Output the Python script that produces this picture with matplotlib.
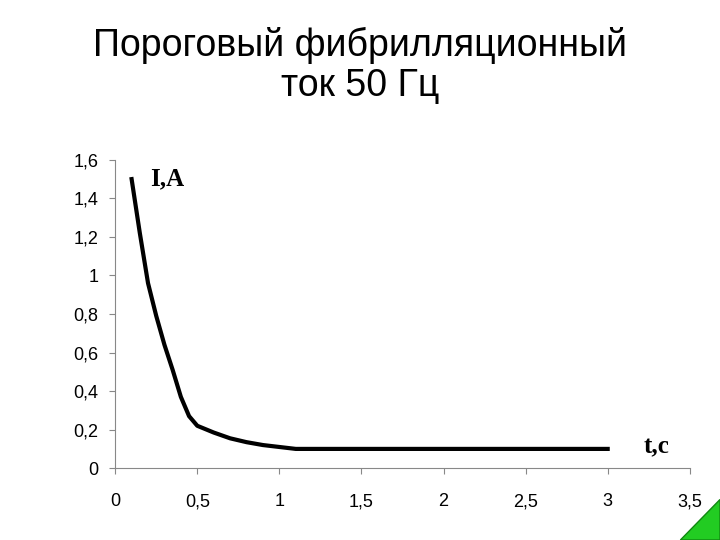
import matplotlib.pyplot as plt

# data
t = [0.1, 0.15, 0.2, 0.25, 0.3, 0.35, 0.4, 0.45, 0.5, 0.6, 0.7, 0.8, 0.9, 1.0, 1.1, 1.5, 2.0, 2.5, 3.0]
i = [1.5, 1.22, 0.96, 0.79, 0.64, 0.51, 0.37, 0.27, 0.22, 0.185, 0.155, 0.135, 0.12, 0.11, 0.1, 0.1, 0.1, 0.1, 0.1]
xticks = [0, 0.5, 1, 1.5, 2, 2.5, 3, 3.5]
yticks = [0, 0.2, 0.4, 0.6, 0.8, 1.0, 1.2, 1.4, 1.6]

def fmt(v):
    s = f"{v:g}"
    return s.replace(".", ",")

fig = plt.figure(figsize=(7.2, 5.4), dpi=100)
fig.text(0.5, 0.95, "Пороговый фибрилляционный\nток 50 Гц", ha="center", va="top",
         fontsize=27, family="Liberation Sans", linespacing=1.15)

ax = fig.add_axes([0.16, 0.133, 0.798, 0.571])
ax.plot(t, i, color="black", linewidth=3, solid_joinstyle="round")
ax.set_xlim(0, 3.5)
ax.set_ylim(0, 1.6)
ax.set_xticks(xticks)
ax.set_xticklabels([fmt(v) for v in xticks])
ax.set_yticks(yticks)
ax.set_yticklabels([fmt(v) for v in yticks])
for lab in ax.get_xticklabels() + ax.get_yticklabels():
    lab.set_family("Liberation Sans")
    lab.set_fontsize(13)
ax.tick_params(axis="x", pad=14, length=4, color="#888888")
ax.tick_params(axis="y", pad=8, length=4, color="#888888")
for s in ["top", "right"]:
    ax.spines[s].set_visible(False)
for s in ["left", "bottom"]:
    ax.spines[s].set_color("#888888")

ax.text(0.21, 1.5, "I,A", family="Liberation Serif", fontweight="bold", fontsize=18,
        ha="left", va="center")
ax.text(3.3, 0.11, "t,c", family="Liberation Serif", fontweight="bold", fontsize=18,
        ha="center", va="center")

# green corner triangle
fig.patches.append(plt.Polygon([[1.0, 0.0], [1.0, 0.075], [0.945, 0.0]], closed=True,
                               transform=fig.transFigure, facecolor="#22cc22",
                               edgecolor="#118811", figure=fig))

fig.savefig("out.png", dpi=100)
